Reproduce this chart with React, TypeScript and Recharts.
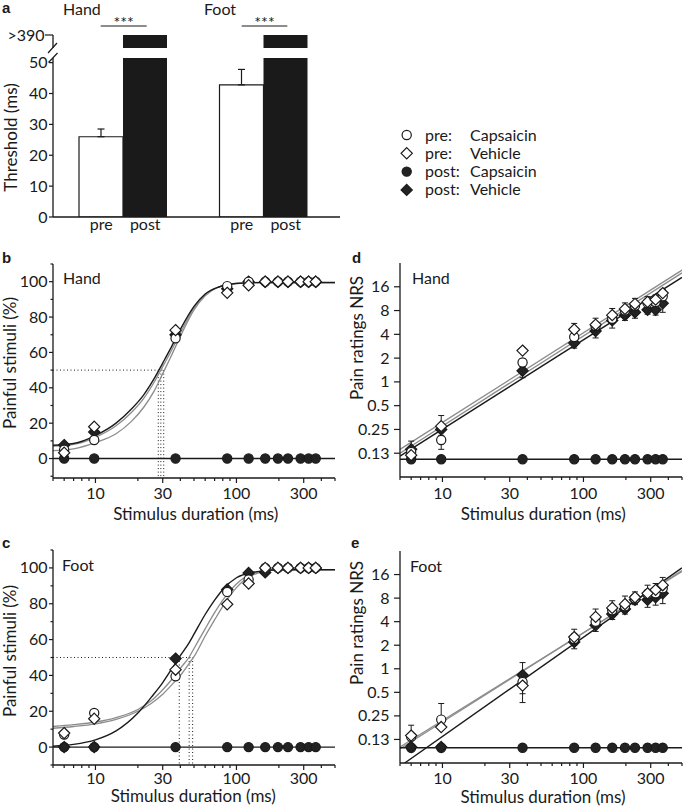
import React from "react";
import {
  Bar,
  ComposedChart,
  ErrorBar,
  Line,
  ReferenceLine,
  Scatter,
  XAxis,
  YAxis,
} from "recharts";

const FONT = "Lato, 'Open Sans', sans-serif";
const INK = "#1a1a1a";
const GRAY = "#8c8c8c";
const DARK = "#222";

// ---- panel a: pain thresholds (ms)
const A_SITES = ["Hand", "Foot"];
const A_PHASES = ["pre", "post"];
const A_PRE = [26, 42.8];
const A_PRE_SEM = [2.5, 5];
const A_POST = [390, 390]; // plotted as ">390"
const A_TICKS = [0, 10, 20, 30, 40, 50];

// ---- stimulus durations used in b-e (ms)
const DURATIONS = [6, 9.8, 37, 86, 122, 160, 197, 232, 285, 325, 365];
const X_TICKS = [5, 6, 7, 8, 9, 10, 20, 30, 40, 50, 60, 70, 80, 90, 100, 200, 300, 400, 500];
const X_LABELED = [10, 30, 100, 300];
const FIT_X = [5, 500];

const P_TICKS = [-10, 0, 10, 20, 30, 40, 50, 60, 70, 80, 90, 100, 110];
const P_LABELED = [0, 20, 40, 60, 80, 100];
const NRS_TICKS = [0.125, 0.25, 0.5, 1, 2, 4, 8, 16];
const NRS_LABELS = ["0.13", "0.25", "0.5", "1", "2", "4", "8", "16"];

// ---- panel b: hand, painful stimuli (%)
const B_PRE_CAP = [5, 10.5, 68, 97.5, 100, 100, 100, 100, 100, 100, 100];
const B_PRE_VEH = [3.3, 18, 72.6, 93.7, 98, 100, 100, 100, 100, 100, 100];
const B_POST_CAP = [0, 0, 0, 0, 0, 0, 0, 0, 0, 0, 0];
const B_POST_VEH = [7.6, 15, 70, 96, 100, 100, 100, 100, 100, 100, 100];
const B_CURVE_X = [5, 7, 10, 14, 18, 22, 26, 30, 34, 40, 50, 60, 75, 100, 150, 500];
const B_FIT_POST_VEH = [7.5, 8.5, 13, 20, 28, 36, 45, 54, 62, 73, 86, 93, 97, 99, 99.5, 99.5];
const B_FIT_PRE_CAP = [7, 8, 12, 18.5, 26, 34, 43, 52, 60, 71, 85, 92.5, 97, 99, 99.5, 99.5];
const B_FIT_PRE_VEH = [4.5, 5.5, 9, 14, 21, 29, 38, 48, 57, 69, 84, 92, 97, 99, 99.5, 99.5];
const B_FIT_POST_CAP = [0, 0];
const B_THRESH = [27.9, 29.1, 30.5];

// ---- panel c: foot, painful stimuli (%)
const C_PRE_CAP = [7, 19, 39.5, 86.6, 93.5, 100, 100, 100, 100, 100, 100];
const C_PRE_VEH = [7.8, 15.8, 43.2, 79.7, 91.3, 100, 100, 100, 100, 100, 100];
const C_POST_CAP = [0, 0, 0, 0, 0, 0, 0, 0, 0, 0, 0];
const C_POST_VEH = [0, 0, 49.4, 88, 97.2, 97.5, 100, 100, 100, 100, 100];
const C_CURVE_X = [5, 7, 10, 14, 20, 25, 30, 35, 40, 46, 50, 60, 70, 80, 100, 130, 200, 500];
const C_FIT_POST_VEH = [0.5, 1.5, 4, 9, 19, 28, 36, 44, 51, 58, 63, 74, 82, 88, 94.5, 97.5, 99, 99];
const C_FIT_PRE_CAP = [11.5, 12.5, 14, 16.5, 21, 26, 32, 38, 44, 50, 55, 66, 75, 82, 91, 97, 99, 99];
const C_FIT_PRE_VEH = [10.5, 11.5, 13, 15.5, 20, 24.5, 29.5, 35, 40, 46.5, 50.5, 62, 71, 78.5, 89, 96, 99, 99];
const C_FIT_POST_CAP = [0, 0];
const C_THRESH = [39.3, 46.2, 48.9];

// ---- panel d: hand, pain ratings NRS
const D_PRE_CAP = [0.13, 0.184, 1.76, 3.7, 5.1, 6.3, 8.0, 9.2, 10.0, 10.3, 12.1];
const D_PRE_CAP_ERR = [[0.01, 0.01], [0.044, 0.05], [0.2, 0.2], [0.4, 0.4], [0.6, 0.6], [0.8, 0.8], [1, 1], [1, 1], [1.2, 1.2], [1.2, 1.2], [1.4, 1.4]];
const D_PRE_VEH = [0.118, 0.275, 2.49, 4.6, 5.3, 7.0, 8.4, 9.7, 10.3, 11.0, 13.3];
const D_PRE_VEH_ERR = [[0, 0.06], [0, 0.1], [0, 0.2], [0, 0.9], [0, 1.1], [0, 1.5], [0, 1.6], [0, 1.7], [0, 1.7], [0, 1.6], [0, 1.5]];
const D_POST_CAP = [0.105, 0.105, 0.105, 0.105, 0.105, 0.105, 0.105, 0.105, 0.105, 0.105, 0.105];
const D_POST_VEH = [0.14, 0.25, 1.38, 3.1, 4.4, 6.0, 7.0, 7.6, 8.2, 8.2, 9.9];
const D_POST_VEH_ERR = [[0.02, 0], [0.04, 0], [0.25, 0], [0.42, 0], [0.8, 0], [1.2, 0], [1.0, 0], [1.2, 0], [1.0, 0], [1.2, 0], [2.3, 0]];
const D_FIT_POST_VEH = [0.115, 21];
const D_FIT_PRE_CAP = [0.125, 24];
const D_FIT_PRE_VEH = [0.14, 26];
const D_FIT_POST_CAP = [0.105, 0.105];

// ---- panel e: foot, pain ratings NRS
const E_PRE_CAP = [0.135, 0.224, 0.68, 2.4, 4.0, 5.6, 6.3, 7.9, 9.0, 9.2, 10.7];
const E_PRE_CAP_ERR = [[0.01, 0.01], [0.04, 0.136], [0.2, 0.2], [0.4, 0.4], [0.6, 0.6], [0.8, 0.8], [1, 1], [1, 1], [1.2, 1.2], [1.2, 1.2], [1.4, 1.4]];
const E_PRE_VEH = [0.14, 0.18, 0.61, 2.54, 4.6, 6.0, 6.7, 8.2, 9.2, 10.2, 11.7];
const E_PRE_VEH_ERR = [[0, 0.05], [0, 0.06], [0.24, 0], [0, 0.66], [0, 1.2], [0, 1.4], [0, 1.8], [0, 1.4], [0, 2.5], [0, 2.1], [0, 3.0]];
const E_POST_CAP = [0.098, 0.098, 0.098, 0.098, 0.098, 0.098, 0.098, 0.098, 0.098, 0.098, 0.098];
const E_POST_VEH = [0.1, 0.1, 0.83, 2.2, 3.6, 5.0, 5.8, 7.6, 7.6, 8.2, 9.2];
const E_POST_VEH_ERR = [[0, 0], [0, 0], [0, 0.37], [0.4, 0], [0.6, 0], [0.74, 0], [0.8, 0], [1.0, 0], [1.5, 0], [1.7, 0], [2.4, 0]];
const E_FIT_POST_VEH_X = [5.4, 500];
const E_FIT_POST_VEH = [0.0625, 19.5];
const E_FIT_PRE_CAP = [0.1, 17.5];
const E_FIT_PRE_VEH = [0.095, 18];
const E_FIT_POST_CAP = [0.098, 0.098];

const LEGEND = [
  { shape: "circle", filled: false, phase: "pre:", agent: "Capsaicin" },
  { shape: "diamond", filled: false, phase: "pre:", agent: "Vehicle" },
  { shape: "circle", filled: true, phase: "post:", agent: "Capsaicin" },
  { shape: "diamond", filled: true, phase: "post:", agent: "Vehicle" },
];

const toPoints = (xs: number[], ys: number[], err?: number[][]) =>
  xs.map((x, i) => ({ x, y: ys[i], err: err ? err[i] : undefined }));

const R = 4.6;
const H = 5.6;
const diamondPath = (cx: number, cy: number) =>
  `M${cx},${cy - H}L${cx + H},${cy}L${cx},${cy + H}L${cx - H},${cy}Z`;

const circleShape = (fill: string) => (p: any) =>
  <circle cx={p.cx} cy={p.cy} r={R} fill={fill} stroke={INK} strokeWidth={1.2} />;
const diamondShape = (fill: string) => (p: any) =>
  <path d={diamondPath(p.cx, p.cy)} fill={fill} stroke={INK} strokeWidth={1.2} />;

const textStyle = { fontFamily: FONT, fontSize: 16, fill: INK } as const;
const titleStyle = { fontFamily: FONT, fontSize: 17, fill: INK } as const;

function makeLeftTick(major: number[], fmt: (v: number) => string, len: number, minorLen: number, gap: number) {
  return (p: any) => {
    const v = p.payload.value as number;
    const isMajor = major.some((m) => Math.abs(m - v) < 1e-9);
    const l = isMajor ? len : minorLen;
    return (
      <g>
        <line x1={p.x - l} x2={p.x} y1={p.y} y2={p.y} stroke={INK} strokeWidth={1.2} />
        {isMajor && (
          <text x={p.x - l - gap} y={p.y + 5.5} textAnchor="end" {...textStyle}>
            {fmt(v)}
          </text>
        )}
      </g>
    );
  };
}

function makeBottomTick(labelDy: number) {
  return (p: any) => {
    const v = p.payload.value as number;
    const isMajor = X_LABELED.includes(v);
    const l = isMajor ? 5 : 3;
    return (
      <g>
        <line x1={p.x} x2={p.x} y1={p.y} y2={p.y + l} stroke={INK} strokeWidth={1.2} />
        {isMajor && (
          <text x={p.x} y={p.y + labelDy} textAnchor="middle" {...textStyle}>
            {v}
          </text>
        )}
      </g>
    );
  };
}

const prePostTick = (p: any) => (
  <g>
    <text x={p.x - 22} y={p.y + 13} textAnchor="middle" {...textStyle}>{A_PHASES[0]}</text>
    <text x={p.x + 22} y={p.y + 13} textAnchor="middle" {...textStyle}>{A_PHASES[1]}</text>
  </g>
);

const axisLine = { stroke: INK, strokeWidth: 1.3 };

const aRows = A_SITES.map((site, i) => ({
  site,
  pre: A_PRE[i],
  preErr: [0, A_PRE_SEM[i]],
  post: A_POST[i],
}));

function ThresholdPanel() {
  return (
    <>
      {/* upper piece of the broken axis (>390) */}
      <div style={{ position: "absolute", left: 0, top: 18 }}>
        <ComposedChart width={345} height={32} data={aRows} barGap={0}
          margin={{ top: 17, right: 5, bottom: 2, left: 0 }}>
          <XAxis dataKey="site" type="category" hide padding={{ left: 0, right: 6 }} />
          <YAxis type="number" domain={[386, 390]} allowDataOverflow ticks={[390]} interval={0}
            width={53} tickSize={0} tickMargin={0} tickLine={false} axisLine={axisLine}
            tick={makeLeftTick([390], (v) => `>${v}`, 8, 8, 0.5)} />
          <Bar dataKey="preTop" barSize={44} isAnimationActive={false} />
          <Bar dataKey="post" barSize={44} fill={INK} isAnimationActive={false} />
        </ComposedChart>
      </div>
      {/* lower piece 0-50 */}
      <div style={{ position: "absolute", left: 0, top: 50 }}>
        <ComposedChart width={345} height={190} data={aRows} barGap={0}
          margin={{ top: 8, right: 5, bottom: 0, left: 0 }}>
          <XAxis dataKey="site" type="category" height={23} padding={{ left: 0, right: 6 }}
            tickSize={0} tickMargin={0} tickLine={false} axisLine={axisLine} interval={0}
            tick={prePostTick} />
          <YAxis type="number" domain={[0, 51.5]} allowDataOverflow ticks={A_TICKS} interval={0}
            width={53} tickSize={0} tickMargin={0} tickLine={false} axisLine={axisLine}
            tick={makeLeftTick(A_TICKS, (v) => String(v), 4, 4, 1.5)} />
          <Bar dataKey="pre" barSize={44} fill="#fff" stroke={INK} strokeWidth={1.2} isAnimationActive={false}>
            <ErrorBar dataKey="preErr" direction="y" width={3.5} stroke={INK} strokeWidth={1.2} />
          </Bar>
          <Bar dataKey="post" barSize={44} fill={INK} isAnimationActive={false} />
        </ComposedChart>
      </div>
    </>
  );
}

type Series = { ys: number[]; err?: number[][] };
type Curve = { xs: number[]; ys: number[]; color: string; smooth?: boolean };
type PanelCfg = {
  left: number; top: number; width: number; height: number;
  marginTop: number; marginRight: number; yWidth: number; xHeight: number;
  log: boolean; domain: [number, number];
  yTicks: number[]; yMajor: number[]; yFmt: (v: number) => string;
  yLen: number; yMinorLen: number; yGap: number; xLabelDy: number;
  curves: Curve[];
  preCap: Series; preVeh: Series; postCap: Series; postVeh: Series;
  threshold?: { level: number; xs: number[] };
};

function CurvePanel(c: PanelCfg) {
  const dotted = { stroke: INK, strokeWidth: 1, strokeDasharray: "1 2.5", ifOverflow: "hidden" as const };
  const series: [Series, (f: string) => (p: any) => React.ReactElement, string][] = [
    [c.postCap, circleShape, DARK],
    [c.postVeh, diamondShape, DARK],
    [c.preCap, circleShape, "#fff"],
    [c.preVeh, diamondShape, "#fff"],
  ];
  return (
    <div style={{ position: "absolute", left: c.left, top: c.top }}>
      <ComposedChart width={c.width} height={c.height}
        margin={{ top: c.marginTop, right: c.marginRight, bottom: 0, left: 0 }}>
        <XAxis dataKey="x" type="number" scale="log" domain={[5, 500]} allowDataOverflow
          ticks={X_TICKS} interval={0} height={c.xHeight} tickSize={0} tickMargin={0}
          tickLine={false} axisLine={axisLine} tick={makeBottomTick(c.xLabelDy)} />
        <YAxis dataKey="y" type="number" scale={c.log ? "log" : "linear"} domain={c.domain}
          allowDataOverflow ticks={c.yTicks} interval={0} width={c.yWidth} tickSize={0}
          tickMargin={0} tickLine={false} axisLine={axisLine}
          tick={makeLeftTick(c.yMajor, c.yFmt, c.yLen, c.yMinorLen, c.yGap)} />
        {c.threshold && (
          <ReferenceLine {...dotted}
            segment={[{ x: 5, y: c.threshold.level }, { x: Math.max(...c.threshold.xs), y: c.threshold.level }]} />
        )}
        {c.threshold &&
          c.threshold.xs.map((x) => (
            <ReferenceLine key={x} {...dotted}
              segment={[{ x, y: c.threshold!.level }, { x, y: c.domain[0] }]} />
          ))}
        {c.curves.map((cv, i) => (
          <Line key={i} data={toPoints(cv.xs, cv.ys)} dataKey="y" type={cv.smooth ? "monotone" : "linear"}
            stroke={cv.color} strokeWidth={cv.color === INK ? 1.4 : 1.3} dot={false} activeDot={false}
            isAnimationActive={false} />
        ))}
        {series.map(([s, shape, fill], i) => (
          <Scatter key={i} data={toPoints(DURATIONS, s.ys, s.err)} shape={shape(fill)} isAnimationActive={false}>
            {s.err && <ErrorBar dataKey="err" direction="y" width={3} stroke={INK} strokeWidth={1} />}
          </Scatter>
        ))}
      </ComposedChart>
    </div>
  );
}

const pctBase = {
  width: 345, marginRight: 10, yWidth: 53, log: false,
  yTicks: P_TICKS, yMajor: P_LABELED, yFmt: (v: number) => String(v),
  yLen: 4, yMinorLen: 2.5, yGap: 1.5,
};
const nrsBase = {
  width: 340, marginRight: 3, yWidth: 55, log: true, domain: [0.0625, 32] as [number, number],
  yTicks: NRS_TICKS, yMajor: NRS_TICKS, yFmt: (v: number) => NRS_LABELS[NRS_TICKS.indexOf(v)],
  yLen: 6, yMinorLen: 6, yGap: 4.5,
};

const B_CFG: PanelCfg = {
  ...pctBase, left: 0, top: 240, height: 290, marginTop: 24, xHeight: 52,
  domain: [-11, 110], xLabelDy: 21,
  curves: [
    { xs: B_CURVE_X, ys: B_FIT_PRE_VEH, color: GRAY, smooth: true },
    { xs: B_CURVE_X, ys: B_FIT_PRE_CAP, color: GRAY, smooth: true },
    { xs: B_CURVE_X, ys: B_FIT_POST_VEH, color: INK, smooth: true },
    { xs: FIT_X, ys: B_FIT_POST_CAP, color: INK },
  ],
  preCap: { ys: B_PRE_CAP }, preVeh: { ys: B_PRE_VEH },
  postCap: { ys: B_POST_CAP }, postVeh: { ys: B_POST_VEH },
  threshold: { level: 50, xs: B_THRESH },
};

const C_CFG: PanelCfg = {
  ...pctBase, left: 0, top: 530, height: 281, marginTop: 20, xHeight: 46,
  domain: [-10, 110], xLabelDy: 18.5,
  curves: [
    { xs: C_CURVE_X, ys: C_FIT_PRE_VEH, color: GRAY, smooth: true },
    { xs: C_CURVE_X, ys: C_FIT_PRE_CAP, color: GRAY, smooth: true },
    { xs: C_CURVE_X, ys: C_FIT_POST_VEH, color: INK, smooth: true },
    { xs: FIT_X, ys: C_FIT_POST_CAP, color: INK },
  ],
  preCap: { ys: C_PRE_CAP }, preVeh: { ys: C_PRE_VEH },
  postCap: { ys: C_POST_CAP }, postVeh: { ys: C_POST_VEH },
  threshold: { level: 50, xs: C_THRESH },
};

const D_CFG: PanelCfg = {
  ...nrsBase, left: 345, top: 240, height: 290, marginTop: 23, xHeight: 53, xLabelDy: 21.7,
  curves: [
    { xs: FIT_X, ys: D_FIT_PRE_VEH, color: GRAY },
    { xs: FIT_X, ys: D_FIT_PRE_CAP, color: GRAY },
    { xs: FIT_X, ys: D_FIT_POST_VEH, color: INK },
    { xs: FIT_X, ys: D_FIT_POST_CAP, color: INK },
  ],
  preCap: { ys: D_PRE_CAP, err: D_PRE_CAP_ERR }, preVeh: { ys: D_PRE_VEH, err: D_PRE_VEH_ERR },
  postCap: { ys: D_POST_CAP }, postVeh: { ys: D_POST_VEH, err: D_POST_VEH_ERR },
};

const E_CFG: PanelCfg = {
  ...nrsBase, left: 345, top: 530, height: 281, marginTop: 21, xHeight: 48, xLabelDy: 21,
  curves: [
    { xs: FIT_X, ys: E_FIT_PRE_VEH, color: GRAY },
    { xs: FIT_X, ys: E_FIT_PRE_CAP, color: GRAY },
    { xs: E_FIT_POST_VEH_X, ys: E_FIT_POST_VEH, color: INK },
    { xs: FIT_X, ys: E_FIT_POST_CAP, color: INK },
  ],
  preCap: { ys: E_PRE_CAP, err: E_PRE_CAP_ERR }, preVeh: { ys: E_PRE_VEH, err: E_PRE_VEH_ERR },
  postCap: { ys: E_POST_CAP }, postVeh: { ys: E_POST_VEH, err: E_POST_VEH_ERR },
};

const PANEL_LETTERS: [string, number, number][] = [
  ["a", 2, 13], ["b", 2, 263], ["c", 2, 548], ["d", 352, 263], ["e", 351, 548],
];
const INSET_LABELS: [string, number, number][] = [
  ["Hand", 63, 15], ["Foot", 204, 15], ["Hand", 63, 284], ["Hand", 412, 284],
  ["Foot", 62, 570.7], ["Foot", 410, 572],
];
const Y_TITLES: [string, number, number][] = [
  ["Threshold (ms)", 16.5, 137.5], ["Painful stimuli (%)", 16, 363],
  ["Painful stimuli (%)", 16, 651], ["Pain ratings NRS", 362.5, 338],
  ["Pain ratings NRS", 362.5, 623],
];
const X_TITLES: [string, number, number][] = [
  ["Stimulus duration (ms)", 195.8, 520], ["Stimulus duration (ms)", 543.3, 520],
  ["Stimulus duration (ms)", 193.3, 802], ["Stimulus duration (ms)", 543, 803],
];
const SIG_BARS: [number, number][] = [[100.7, 146.7], [241.7, 287.3]];

function Overlay() {
  return (
    <svg width={685} height={811} style={{ position: "absolute", left: 0, top: 0, pointerEvents: "none" }}>
      {PANEL_LETTERS.map(([t, x, y]) => (
        <text key={t} x={x} y={y} fontFamily="'Liberation Sans', Arial, sans-serif" fontWeight="bold" fontSize={15} fill={INK}>{t}</text>
      ))}
      {INSET_LABELS.map(([t, x, y], i) => (
        <text key={i} x={x} y={y} {...textStyle}>{t}</text>
      ))}
      {Y_TITLES.map(([t, x, y], i) => (
        <text key={i} transform={`translate(${x},${y}) rotate(-90)`} textAnchor="middle" {...titleStyle}>{t}</text>
      ))}
      {X_TITLES.map(([t, x, y], i) => (
        <text key={i} x={x} y={y} textAnchor="middle" {...titleStyle}>{t}</text>
      ))}
      {SIG_BARS.map(([x1, x2], i) => (
        <g key={i}>
          <line x1={x1} x2={x2} y1={26} y2={26} stroke={INK} strokeWidth={1} />
          <text x={(x1 + x2) / 2} y={28} textAnchor="middle" fontFamily={FONT} fontSize={16} fill={INK}>***</text>
        </g>
      ))}
      {/* axis break marks */}
      <line x1={48} y1={53} x2={57} y2={43} stroke={INK} strokeWidth={1.2} />
      <line x1={48.5} y1={62.5} x2={57.5} y2={53} stroke={INK} strokeWidth={1.2} />
      {LEGEND.map((l, i) => {
        const cy = 135 + i * 18.3;
        const fill = l.filled ? DARK : "#fff";
        return (
          <g key={i}>
            {l.shape === "circle" ? (
              <circle cx={406.7} cy={cy} r={R} fill={fill} stroke={INK} strokeWidth={1.2} />
            ) : (
              <path d={diamondPath(406.7, cy)} fill={fill} stroke={INK} strokeWidth={1.2} />
            )}
            <text x={425} y={cy + 5.5} {...textStyle}>{l.phase}</text>
            <text x={470} y={cy + 5.5} {...textStyle}>{l.agent}</text>
          </g>
        );
      })}
    </svg>
  );
}

export default function App() {
  return (
    <div style={{ position: "absolute", left: 0, top: 0, width: 685, height: 811, background: "#fff" }}>
      <ThresholdPanel />
      <CurvePanel {...B_CFG} />
      <CurvePanel {...C_CFG} />
      <CurvePanel {...D_CFG} />
      <CurvePanel {...E_CFG} />
      <Overlay />
    </div>
  );
}
